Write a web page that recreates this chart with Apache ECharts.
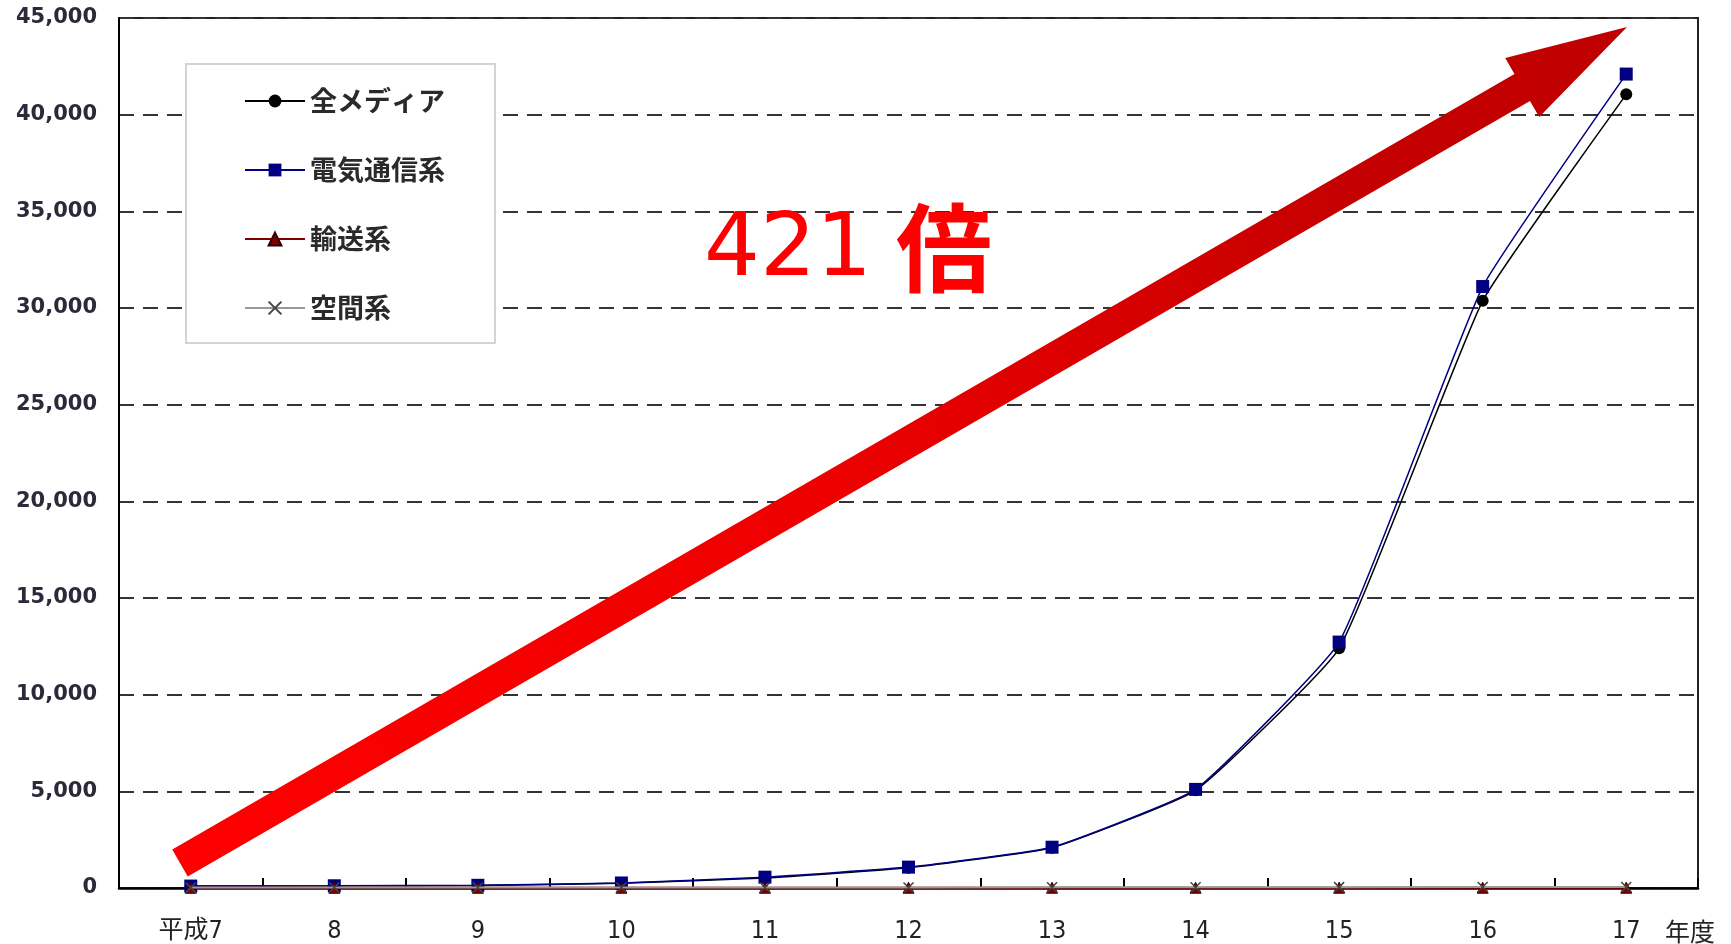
<!DOCTYPE html>
<html>
<head>
<meta charset="utf-8">
<script src="https://cdn.jsdelivr.net/npm/echarts@6/dist/echarts.min.js"></script>
<style>
  html, body { margin: 0; padding: 0; background: #fff; }
  #chart { width: 1731px; height: 944px; }
</style>
</head>
<body>
<div id="chart"></div>
<script>
// 年度 (平成7〜17)
const categories = ['平成7', '8', '9', '10', '11', '12', '13', '14', '15', '16', '17'];

// 流通情報量の推移
const allMedia  = [97.5, 110, 135, 240, 520, 1050, 2080, 5050, 12400, 30370, 41050];
const telecom   = [100, 115, 140, 260, 560, 1080, 2110, 5100, 12720, 31110, 42100];
const transport = [12, 12, 12, 13, 13, 14, 14, 14, 15, 15, 15];
const spatial   = [20, 21, 22, 24, 26, 30, 34, 38, 44, 50, 56];

const seriesNames = ['全メディア', '電気通信系', '輸送系', '空間系'];

// y軸目盛
const yMin = 0, yMax = 45000, yStep = 5000;

const growthLabel = '421';
const growthUnit = '倍';
const xAxisUnit = '年度';

const chart = echarts.init(document.getElementById('chart'), null, { renderer: 'canvas' });

// 右肩上がりの矢印 (ピクセル座標で形を組み立て)
function arrowPoints(tail, tip, shaftHalf, headHalf, headLen) {
  const dx = tip[0] - tail[0], dy = tip[1] - tail[1];
  const len = Math.hypot(dx, dy);
  const ux = dx / len, uy = dy / len;
  const nx = -uy, ny = ux;
  const bx = tip[0] - ux * headLen, by = tip[1] - uy * headLen;
  return [
    [tail[0] + nx * shaftHalf, tail[1] + ny * shaftHalf],
    [bx + nx * shaftHalf, by + ny * shaftHalf],
    [bx + nx * headHalf, by + ny * headHalf],
    [tip[0], tip[1]],
    [bx - nx * headHalf, by - ny * headHalf],
    [bx - nx * shaftHalf, by - ny * shaftHalf],
    [tail[0] - nx * shaftHalf, tail[1] - ny * shaftHalf]
  ];
}
const arrowTail = [180, 863];
const arrowTip = [1627, 27];

const xMark = 'path://M0,0L10,10M10,0L0,10';

chart.setOption({
  backgroundColor: '#ffffff',
  animation: false,
  grid: {
    left: 119, right: 33, top: 18, bottom: 55,
    show: true,
    borderColor: '#222',
    borderWidth: 2,
    backgroundColor: 'transparent'
  },
  legend: {
    data: seriesNames,
    orient: 'vertical',
    left: 186,
    top: 64,
    itemWidth: 60,
    itemHeight: 16,
    itemGap: 41,
    padding: [23, 50, 21, 58],
    backgroundColor: '#fff',
    borderColor: '#d4d4d4',
    borderWidth: 2,
    textStyle: {
      fontFamily: "'Noto Sans CJK JP', sans-serif",
      fontSize: 27,
      lineHeight: 28,
      fontWeight: 'bold',
      color: '#2a2a2a'
    }
  },
  xAxis: {
    type: 'category',
    data: categories,
    boundaryGap: true,
    axisLine: { lineStyle: { color: '#000', width: 2.5 } },
    axisTick: { show: true, inside: true, length: 10, lineStyle: { color: '#000', width: 2 } },
    axisLabel: {
      margin: 31,
      fontFamily: "'Liberation Sans Narrow', 'DejaVu Sans Condensed', 'Noto Sans CJK JP', sans-serif",
      fontSize: 25,
      color: '#222'
    },
    splitLine: { show: false }
  },
  yAxis: {
    type: 'value',
    min: yMin,
    max: yMax,
    interval: yStep,
    axisLine: { show: true, lineStyle: { color: '#000', width: 2 } },
    axisTick: { show: false },
    axisLabel: {
      margin: 22,
      fontFamily: "'DejaVu Sans', sans-serif",
      fontWeight: 'bold',
      fontSize: 21,
      color: '#2a2a3a',
      formatter: v => v.toLocaleString('en-US')
    },
    splitLine: { show: true, lineStyle: { color: '#333', width: 2, type: [15, 9] } }
  },
  series: [
    {
      name: seriesNames[0], type: 'line', data: allMedia, smooth: 0.12,
      symbol: 'circle', symbolSize: 12,
      lineStyle: { color: '#000', width: 1.5 },
      itemStyle: { color: '#000' },
      z: 2
    },
    {
      name: seriesNames[1], type: 'line', data: telecom, smooth: 0.12,
      symbol: 'rect', symbolSize: 13,
      lineStyle: { color: '#000080', width: 1.5 },
      itemStyle: { color: '#000080' },
      z: 3
    },
    {
      name: seriesNames[2], type: 'line', data: transport,
      symbol: 'triangle', symbolSize: 11,
      lineStyle: { color: '#800000', width: 2 },
      itemStyle: { color: '#800000', borderColor: '#300', borderWidth: 1 },
      z: 4
    },
    {
      name: seriesNames[3], type: 'line', data: spatial,
      symbol: xMark, symbolSize: 10,
      lineStyle: { color: '#999', width: 2 },
      itemStyle: { color: '#444', borderColor: '#444', borderWidth: 1.5 },
      z: 5
    }
  ],
  graphic: [
    {
      type: 'polygon',
      z: 20,
      shape: { points: arrowPoints(arrowTail, arrowTip, 15.5, 34, 121) },
      style: {
        fill: new echarts.graphic.LinearGradient(arrowTail[0], arrowTail[1], arrowTip[0], arrowTip[1], [
          { offset: 0, color: '#ff0000' },
          { offset: 0.45, color: '#ee0000' },
          { offset: 0.8, color: '#c60000' },
          { offset: 1, color: '#c00000' }
        ], true)
      }
    },
    {
      type: 'text',
      z: 21,
      x: 704,
      y: 252,
      style: {
        text: growthLabel,
        fontFamily: "'DejaVu Sans', sans-serif",
        fontWeight: 'normal',
        fontSize: 88,
        fill: '#ff0000',
        align: 'left',
        verticalAlign: 'middle'
      }
    },
    {
      type: 'text',
      z: 21,
      x: 896,
      y: 248,
      style: {
        text: growthUnit,
        fontFamily: "'Noto Sans CJK JP', sans-serif",
        fontWeight: 'bold',
        fontSize: 96,
        fill: '#ff0000',
        align: 'left',
        verticalAlign: 'middle'
      }
    },
    {
      type: 'text',
      z: 21,
      x: 1690,
      y: 931,
      style: {
        text: xAxisUnit,
        fontFamily: "'Noto Sans CJK JP', sans-serif",
        fontSize: 25,
        fill: '#222',
        align: 'center',
        verticalAlign: 'middle'
      }
    }
  ]
});
</script>
</body>
</html>
